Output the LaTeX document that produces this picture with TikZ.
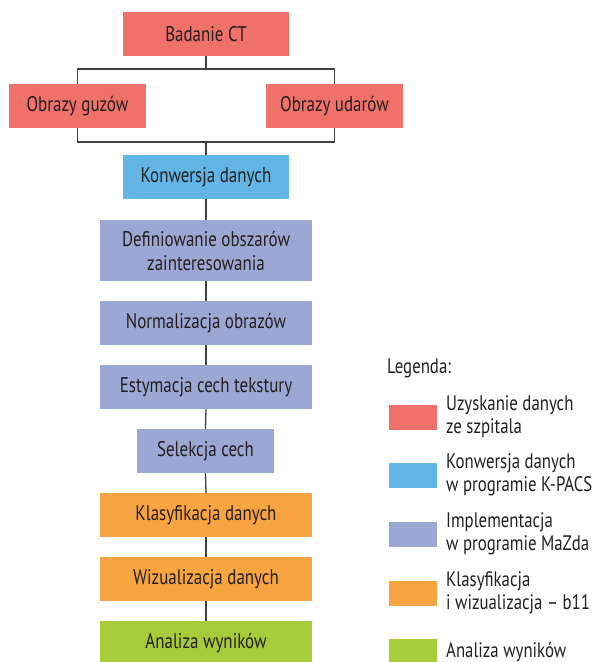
\documentclass[tikz,border=0pt]{standalone}
\usepackage{fontspec}
\setmainfont[FakeStretch=0.8]{PT Sans}
\definecolor{cred}{RGB}{240,112,106}
\definecolor{cblue}{RGB}{98,181,228}
\definecolor{cpurp}{RGB}{156,168,212}
\definecolor{corange}{RGB}{248,164,64}
\definecolor{cgreen}{RGB}{167,204,58}
\definecolor{ctext}{RGB}{35,31,32}
\definecolor{cline}{RGB}{64,64,64}
\begin{document}
\begin{tikzpicture}[x=1pt,y=-1pt,
  box/.style={rectangle,inner sep=0pt,minimum height=44pt,text=ctext,align=center,font=\fontsize{21.2}{24}\selectfont},
  conn/.style={draw=cline,line width=1.3pt},
  swatch/.style={rectangle,inner sep=0pt,minimum width=48pt,minimum height=25pt},
  legtext/.style={anchor=west,inner sep=0pt,align=left,text=ctext,font=\fontsize{21}{23}\selectfont}]
\useasboundingbox (0,0) rectangle (596,662);
\node[box,fill=cred,minimum width=166pt] (ct) at (206,34) {Badanie CT};
\node[box,fill=cred,minimum width=137pt] (guz) at (77.5,106) {Obrazy guzów};
\node[box,fill=cred,minimum width=137pt] (uda) at (334.5,106) {Obrazy udarów};
\node[box,fill=cblue,minimum width=166pt] (konw) at (206,177) {Konwersja danych};
\node[box,fill=cpurp,minimum width=212pt,minimum height=61pt] (def) at (206,250.5) {Definiowanie obszarów\\zainteresowania};
\node[box,fill=cpurp,minimum width=212pt] (norm) at (206,323) {Normalizacja obrazów};
\node[box,fill=cpurp,minimum width=212pt] (est) at (206,387) {Estymacja cech tekstury};
\node[box,fill=cpurp,minimum width=137pt] (sel) at (205.5,451) {Selekcja cech};
\node[box,fill=corange,minimum width=212pt] (klas) at (206,515) {Klasyfikacja danych};
\node[box,fill=corange,minimum width=212pt] (wiz) at (206,579) {Wizualizacja danych};
\node[box,fill=cgreen,minimum width=212pt] (anal) at (206,643) {Analiza wyników};
\coordinate (top) at (206,69);
\coordinate (bot) at (206,142);
\draw[conn] (ct.south) -- (top);
\draw[conn] (guz.north) |- (top) -| (uda.north);
\draw[conn] (guz.south) |- (bot) -| (uda.south);
\draw[conn] (bot) -- (konw.north);
\draw[conn] (konw.south) -- (def.north);
\draw[conn] (def.south) -- (norm.north);
\draw[conn] (norm.south) -- (est.north);
\draw[conn] (est.south) -- (sel.north);
\draw[conn] (sel.south) -- (klas.north);
\draw[conn] (klas.south) -- (wiz.north);
\draw[conn] (wiz.south) -- (anal.north);
\node[legtext] (leg) at (387,368) {Legenda:};
\node[swatch,fill=cred] (s1) at (413,417.5) {};
\node[swatch,fill=cblue] (s2) at (413,475.5) {};
\node[swatch,fill=cpurp] (s3) at (413,534.5) {};
\node[swatch,fill=corange] (s4) at (413,593.5) {};
\node[swatch,fill=cgreen] (s5) at (413,651.5) {};
\node[legtext] (t1) at (446,416.5) {Uzyskanie danych\\ze szpitala};
\node[legtext] (t2) at (446,475) {Konwersja danych\\w programie K-PACS};
\node[legtext] (t3) at (446,534) {Implementacja\\w programie MaZda};
\node[legtext] (t4) at (446,593) {Klasyfikacja\\i wizualizacja -- b11};
\node[legtext] (t5) at (446,652) {Analiza wyników};
\end{tikzpicture}
\end{document}
